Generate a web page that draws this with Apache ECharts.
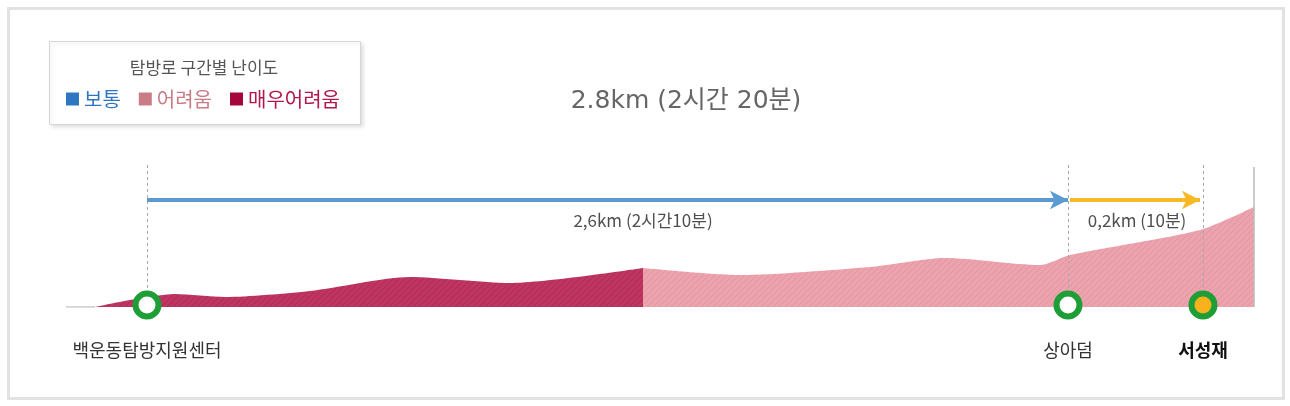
<!DOCTYPE html>
<html>
<head>
<meta charset="utf-8">
<title>탐방로 구간별 난이도</title>
<script src="https://cdn.jsdelivr.net/npm/echarts@6/dist/echarts.min.js"></script>
<style>
  body { margin: 0; background: #fff; }
  #main { width: 1290px; height: 406px; }
</style>
</head>
<body>
<div id="main"></div>
<script>
// 구간 단면 (가로: 시작점에서의 거리, 세로: 상대 고도) - 그림에서 읽은 값
var flatX = [0, 29];
var flatY = [0, 0];
var hardX = [29, 64, 109, 159, 244, 344, 444, 577];      // 매우어려움
var hardY = [0, 7, 13, 10, 16, 30, 24, 39];
var midX = [577, 674, 804, 879, 974, 1004, 1134, 1188];  // 어려움
var midY = [39, 32, 40, 49, 42, 52, 77, 100];

// 지점
var stopNames = ['백운동탐방지원센터', '상아덤', '서성재'];
var stopX = [81, 1002, 1137];
var stopFill = ['#fff', '#fff', '#f9b21d'];

// 범례
var legTitle = '탐방로 구간별 난이도';
var legendNames = ['보통', '어려움', '매우어려움'];
var legendColors = ['#2f76c2', '#c97c85', '#a5063c'];
var legendText = ['#2f76c2', '#c97c85', '#b0174c'];

// 구간 거리/시간
var totalText = '2.8km (2시간 20분)';
var segText = ['2,6km (2시간10분)', '0,2km (10분)'];
var segFrom = [81, 1004];
var segTo = [1002, 1134];
var segLabelX = [577, 1071];
var segColors = ['#5b9bd2', '#f8b824'];

var FONT = "'Noto Sans CJK KR', 'Noto Sans', sans-serif";

function zip(xs, ys) {
    return xs.map(function (x, i) { return [x, ys[i]]; });
}

// 빗금 무늬
function hatch(bg, fg) {
    var c = document.createElement('canvas');
    c.width = 6; c.height = 6;
    var g = c.getContext('2d');
    g.fillStyle = bg;
    g.fillRect(0, 0, 6, 6);
    g.strokeStyle = fg;
    g.lineWidth = 1;
    g.beginPath();
    g.moveTo(0, 6); g.lineTo(6, 0);
    g.moveTo(-1, 1); g.lineTo(1, -1);
    g.moveTo(5, 7); g.lineTo(7, 5);
    g.stroke();
    return { image: c, repeat: 'repeat' };
}

var myChart = echarts.init(document.getElementById('main'));

var guideLines = [];
stopX.forEach(function (x) {
    guideLines.push([
        { coord: [x, 142], symbol: 'none', lineStyle: { color: '#aaa', type: [3, 3], width: 1 } },
        { coord: [x, 16], symbol: 'none' }
    ]);
});
guideLines.push([
    { coord: [1188, 140], symbol: 'none', lineStyle: { color: '#bbb', type: 'solid', width: 1.5 } },
    { coord: [1188, 0], symbol: 'none' }
]);
segFrom.forEach(function (x, i) {
    guideLines.push([
        { coord: [x, 107], symbol: 'none', lineStyle: { color: segColors[i], type: 'solid', width: 4 } },
        { coord: [segTo[i], 107], symbol: 'arrow', symbolSize: [14, 18] }
    ]);
});

var option = {
    animation: false,
    grid: { left: 66, right: 36, top: 162, bottom: 99 },
    xAxis: { type: 'value', min: 0, max: 1188, show: false },
    yAxis: { type: 'value', min: 0, max: 145, show: false },
    legend: {
        left: 66,
        top: 89,
        padding: 0,
        icon: 'rect',
        itemWidth: 13,
        itemHeight: 13,
        itemGap: 18,
        selectedMode: false,
        textStyle: { fontSize: 20, fontFamily: FONT },
        data: legendNames.map(function (n, i) {
            return { name: n, itemStyle: { color: legendColors[i] }, textStyle: { color: legendText[i] } };
        })
    },
    graphic: [
        { type: 'rect', shape: { x: 8.5, y: 8.5, width: 1275, height: 390 },
          style: { fill: 'none', stroke: '#e2e2e2', lineWidth: 3 }, silent: true },
        { type: 'rect', shape: { x: 49.5, y: 41.5, width: 311, height: 83 },
          style: { fill: '#fff', stroke: '#d6d6d6', lineWidth: 1,
                   shadowBlur: 4, shadowOffsetX: 2, shadowOffsetY: 2, shadowColor: 'rgba(0,0,0,0.12)' },
          silent: true, z: 0 },
        { type: 'text', style: { text: legTitle, x: 204, y: 68, align: 'center', verticalAlign: 'middle',
                                 fontSize: 17, fontFamily: FONT, fill: '#555' }, z: 1 },
        { type: 'text', style: { text: totalText, x: 686, y: 101, align: 'center', verticalAlign: 'middle',
                                 fontSize: 25, fontFamily: "'DejaVu Sans', " + FONT, fill: '#666' }, z: 1 }
    ],
    series: [
        {
            name: 'flat', type: 'line', data: zip(flatX, flatY), symbol: 'none',
            lineStyle: { color: '#c4c4c4', width: 1.5 }, silent: true
        },
        {
            name: '매우어려움', type: 'line', data: zip(hardX, hardY), symbol: 'none', smooth: 0.25,
            color: legendColors[2],
            lineStyle: { width: 0 },
            areaStyle: { color: hatch('#be3562', '#ad2a55'), opacity: 1 }, silent: true
        },
        {
            name: '어려움', type: 'line', data: zip(midX, midY), symbol: 'none', smooth: 0.25,
            color: legendColors[1],
            lineStyle: { width: 0 },
            areaStyle: { color: hatch('#eca3ae', '#e094a1'), opacity: 1 }, silent: true
        },
        {
            name: '보통', type: 'line', data: [], symbol: 'none', color: legendColors[0],
            markLine: { silent: true, label: { show: false }, animation: false, data: guideLines }
        },
        {
            name: 'stops', type: 'scatter', symbol: 'circle', symbolSize: 23, z: 5,
            itemStyle: { borderColor: '#1e9e36', borderWidth: 6, opacity: 1 },
            label: { show: true, position: 'bottom', distance: 22, fontSize: 18, fontFamily: FONT, color: '#333' },
            data: stopX.map(function (x, i) {
                var d = { value: [x, 2], itemStyle: { color: stopFill[i] }, label: { formatter: stopNames[i] } };
                if (i === 2) d.label.fontWeight = 'bold', d.label.color = '#111';
                return d;
            }),
            silent: true
        },
        {
            name: 'segLabels', type: 'scatter', symbolSize: 0,
            label: { show: true, position: 'inside', fontSize: 17, fontFamily: FONT, color: '#222' },
            data: segLabelX.map(function (x, i) {
                return { value: [x, 86], label: { formatter: segText[i] } };
            }),
            silent: true
        }
    ]
};

myChart.setOption(option);
window.onresize = myChart.resize;
</script>
</body>
</html>
